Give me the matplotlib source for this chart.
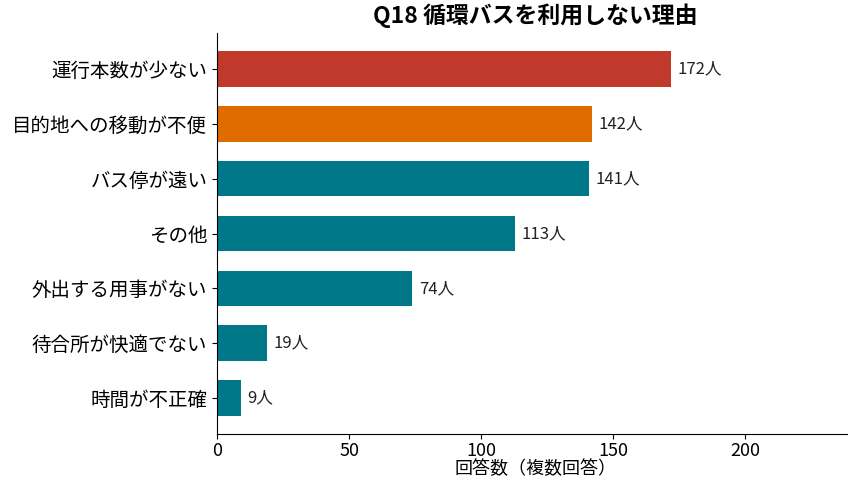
import matplotlib
matplotlib.use("Agg")
import matplotlib.pyplot as plt

plt.rcParams["font.family"] = ["Noto Sans CJK JP", "DejaVu Sans"]
plt.rcParams["axes.unicode_minus"] = False

# データ（上から順）
reasons = [
    "運行本数が少ない",
    "目的地への移動が不便",
    "バス停が遠い",
    "その他",
    "外出する用事がない",
    "待合所が快適でない",
    "時間が不正確",
]
counts = [172, 142, 141, 113, 74, 19, 9]
bar_colors = ["#c0392b", "#e06c00", "#00788a", "#00788a", "#00788a", "#00788a", "#00788a"]

fig = plt.figure(figsize=(8.48, 4.83), dpi=100)
ax = fig.add_axes([0.256, 0.101, 0.75, 0.831])

y = list(range(len(reasons)))
ax.barh(y, counts, height=0.65, color=bar_colors)
ax.invert_yaxis()
ax.set_yticks(y)
ax.set_yticklabels(reasons, fontsize=14)

for yi, c in zip(y, counts):
    ax.text(c + 2.5, yi, f"{c}人", va="center", ha="left", fontsize=12, color="#222")

ax.set_xlim(0, 241)
ax.set_xticks([0, 50, 100, 150, 200])
ax.tick_params(axis="x", labelsize=13, pad=2)
ax.set_xlabel("回答数（複数回答）", fontsize=13, labelpad=0)
ax.set_title("Q18 循環バスを利用しない理由", fontsize=16.5, fontweight="bold", pad=7)

ax.spines["top"].set_visible(False)
ax.spines["right"].set_visible(False)

fig.savefig("out.png", dpi=100, facecolor="white")
